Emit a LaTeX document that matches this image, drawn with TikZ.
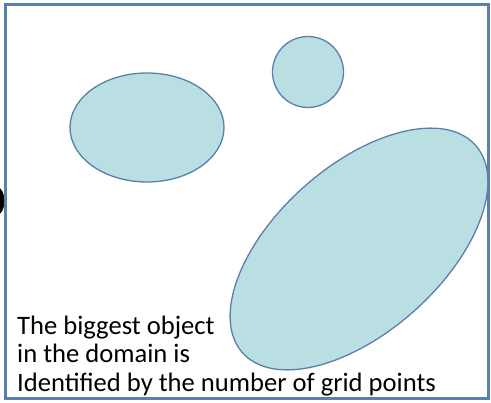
\documentclass[tikz,border=0pt]{standalone}
\usepackage{fontspec}
\setmainfont{Carlito}
\definecolor{shapefill}{HTML}{BADFE3}
\definecolor{shapeline}{HTML}{5A7FAA}
\definecolor{framecol}{HTML}{5B80AE}
\begin{document}
\begin{tikzpicture}[x=1pt,y=-1pt,
  blob/.style={fill=shapefill,draw=shapeline,line width=1.3pt},
  caption/.style={anchor=base west,inner sep=0pt,font=\fontsize{26.6}{28.5}\selectfont,text=black}]
\useasboundingbox (0,0) rectangle (491,403);
\fill[black] (-3,201) ellipse [x radius=7.5,y radius=14];
\draw[framecol,line width=3pt] (5.5,4.5) rectangle (488.7,399);
\path[blob] (147,127.5) ellipse [x radius=77,y radius=54.5];
\path[blob] (308,72) circle [radius=35.5];
\path[blob] (359,249) ellipse [x radius=156,y radius=83,rotate=41.7];
\node[caption] (l1) at (17,335) {The biggest object};
\node[caption] (l2) at (17,363) {in the domain is};
\node[caption] (l3) at (17,392) {Identified by the number of grid points};
\end{tikzpicture}
\end{document}
